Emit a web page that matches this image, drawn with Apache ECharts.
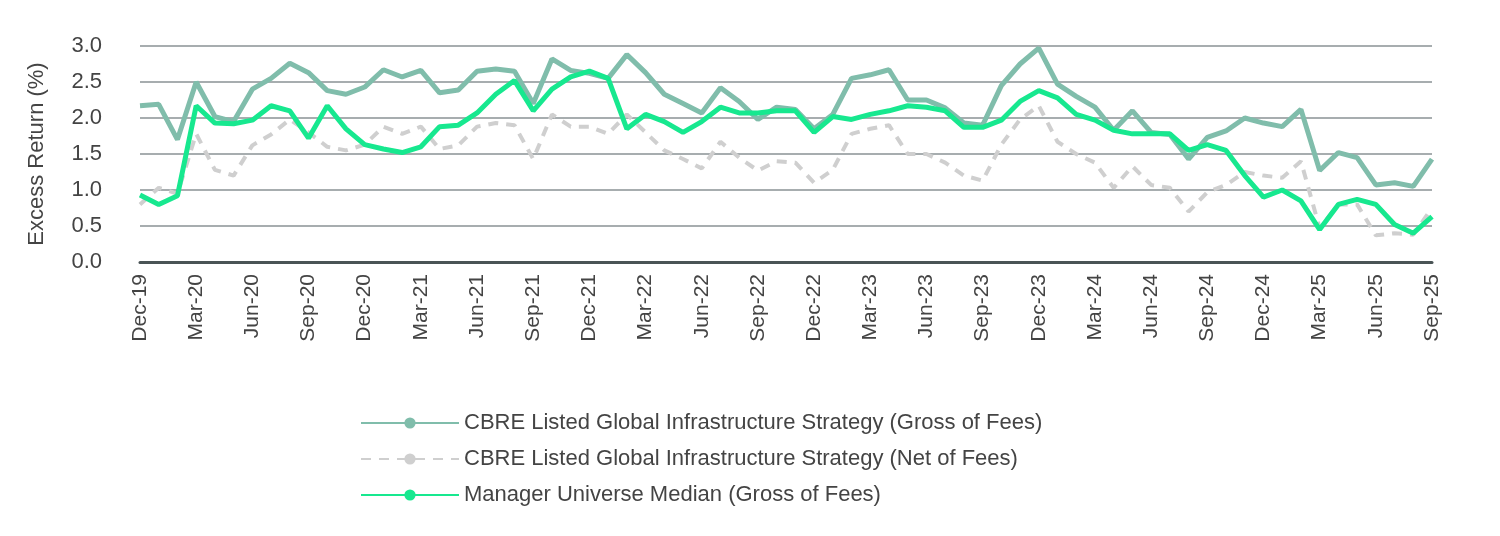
<!DOCTYPE html>
<html><head><meta charset="utf-8">
<script src="https://cdn.jsdelivr.net/npm/echarts@6/dist/echarts.min.js"></script>
<style>html,body{margin:0;padding:0;background:#fff}#c{width:1500px;height:536px}</style>
</head><body><div id="c"></div>
<script>
const categories = ["Dec-19","Jan-20","Feb-20","Mar-20","Apr-20","May-20","Jun-20","Jul-20","Aug-20","Sep-20","Oct-20","Nov-20",
"Dec-20","Jan-21","Feb-21","Mar-21","Apr-21","May-21","Jun-21","Jul-21","Aug-21","Sep-21","Oct-21","Nov-21",
"Dec-21","Jan-22","Feb-22","Mar-22","Apr-22","May-22","Jun-22","Jul-22","Aug-22","Sep-22","Oct-22","Nov-22",
"Dec-22","Jan-23","Feb-23","Mar-23","Apr-23","May-23","Jun-23","Jul-23","Aug-23","Sep-23","Oct-23","Nov-23",
"Dec-23","Jan-24","Feb-24","Mar-24","Apr-24","May-24","Jun-24","Jul-24","Aug-24","Sep-24","Oct-24","Nov-24",
"Dec-24","Jan-25","Feb-25","Mar-25","Apr-25","May-25","Jun-25","Jul-25","Aug-25","Sep-25"];
const grossFees = [2.17,2.19,1.70,2.50,2.02,1.95,2.40,2.55,2.76,2.63,2.38,2.33,
2.43,2.67,2.57,2.66,2.35,2.39,2.65,2.68,2.65,2.20,2.82,2.66,
2.62,2.55,2.88,2.63,2.33,2.20,2.07,2.42,2.23,1.98,2.15,2.12,
1.85,2.05,2.55,2.60,2.67,2.25,2.25,2.14,1.93,1.90,2.45,2.75,
2.97,2.47,2.30,2.15,1.83,2.10,1.80,1.77,1.43,1.73,1.82,2.00,
1.93,1.88,2.12,1.27,1.52,1.45,1.07,1.10,1.05,1.43];
const netFees = [0.80,1.03,0.95,1.78,1.28,1.20,1.62,1.77,1.98,1.80,1.60,1.55,
1.63,1.88,1.78,1.88,1.57,1.62,1.88,1.93,1.90,1.43,2.05,1.88,
1.88,1.78,2.05,1.80,1.55,1.43,1.30,1.67,1.45,1.27,1.40,1.38,
1.10,1.28,1.78,1.85,1.90,1.50,1.50,1.38,1.20,1.13,1.63,1.98,
2.17,1.67,1.50,1.38,1.03,1.33,1.07,1.03,0.70,0.97,1.07,1.25,
1.20,1.17,1.40,0.47,0.80,0.80,0.37,0.40,0.38,0.75];
const median = [0.93,0.80,0.92,2.17,1.93,1.92,1.97,2.17,2.10,1.72,2.17,1.85,
1.63,1.57,1.52,1.60,1.88,1.90,2.07,2.33,2.52,2.10,2.40,2.57,
2.65,2.55,1.85,2.05,1.95,1.80,1.95,2.15,2.07,2.07,2.10,2.10,
1.80,2.02,1.98,2.05,2.10,2.17,2.15,2.10,1.87,1.87,1.97,2.23,
2.38,2.28,2.05,1.97,1.83,1.78,1.78,1.78,1.55,1.63,1.55,1.20,
0.90,1.00,0.85,0.45,0.80,0.87,0.80,0.52,0.40,0.63];
const names = ["CBRE Listed Global Infrastructure Strategy (Gross of Fees)","CBRE Listed Global Infrastructure Strategy (Net of Fees)","Manager Universe Median (Gross of Fees)"];
const font = "Liberation Sans";
const chart = echarts.init(document.getElementById('c'));
chart.setOption({
  animation:false,
  textStyle:{fontFamily:font},
  grid:{left:140,right:68,top:46,height:216},
  legend:{orient:'vertical',left:355,top:407,itemWidth:98,itemHeight:14,itemGap:14,
    textStyle:{fontSize:22,color:'#444',fontFamily:font},
    data:names},
  xAxis:{type:'category',data:categories,boundaryGap:false,
    axisLine:{lineStyle:{color:'#4a5456',width:3}},axisTick:{show:false},
    axisLabel:{rotate:90,interval:2,fontSize:21,color:'#444',margin:12}},
  yAxis:{type:'value',min:0,max:3,interval:0.5,name:'Excess Return (%)',nameLocation:'middle',nameGap:92,
    nameTextStyle:{fontSize:22,color:'#444'},
    axisLine:{show:false},axisTick:{show:false},
    axisLabel:{fontSize:22,color:'#444',formatter:v=>v.toFixed(1),margin:38},
    splitLine:{lineStyle:{color:'#8a9294',width:1.5}}},
  series:[
    {name:names[0],type:'line',data:grossFees,symbol:'none',lineStyle:{color:'#80bdab',width:5},itemStyle:{color:'#80bdab'},z:2},
    {name:names[1],type:'line',data:netFees,symbol:'none',lineStyle:{color:'#cfcfcf',width:4,type:[10,8]},itemStyle:{color:'#cfcfcf'},z:1},
    {name:names[2],type:'line',data:median,symbol:'none',lineStyle:{color:'#17e88f',width:5},itemStyle:{color:'#17e88f'},z:3}
  ]
});
</script></body></html>
